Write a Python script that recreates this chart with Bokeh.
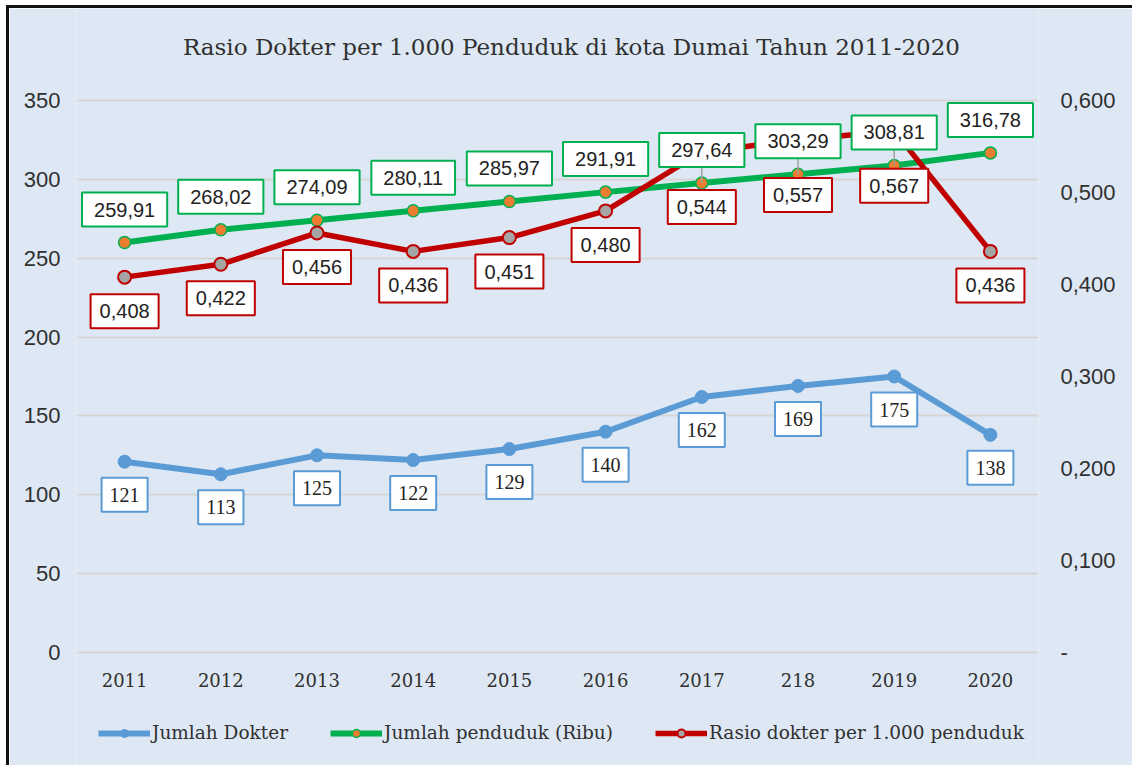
from bokeh.plotting import figure
from bokeh.models import (Range1d, FactorRange, LinearAxis, FixedTicker, ColumnDataSource,
                          Legend, LegendItem, CustomJSTickFormatter)
from bokeh.core.properties import value
from bokeh.embed import file_html
from bokeh.resources import INLINE

# ---- data ----
years = ["2011", "2012", "2013", "2014", "2015", "2016", "2017", "218", "2019", "2020"]
dokter = [121, 113, 125, 122, 129, 140, 162, 169, 175, 138]
penduduk = [259.91, 268.02, 274.09, 280.11, 285.97, 291.91, 297.64, 303.29, 308.81, 316.78]
rasio = [0.408, 0.422, 0.456, 0.436, 0.451, 0.480, 0.544, 0.557, 0.567, 0.436]

left_ticks = [0, 50, 100, 150, 200, 250, 300, 350]
right_ticks = [0.0, 0.1, 0.2, 0.3, 0.4, 0.5, 0.6]
right_tick_labels = ["-", "0,100", "0,200", "0,300", "0,400", "0,500", "0,600"]
leader_years = ["2017", "218", "2019"]

title_text = "Rasio Dokter per 1.000 Penduduk di kota Dumai Tahun 2011-2020"
name_dokter = "Jumlah Dokter"
name_penduduk = "Jumlah penduduk (Ribu)"
name_rasio = "Rasio dokter per 1.000 penduduk"

# ---- style ----
BG = "#DEE8F4"
BLUE = "#5B9BD5"
GREEN = "#00B050"
RED = "#C00000"
ORANGE = "#ED7D31"
GREY = "#A5A5A5"
TXT = "#303030"
SANS = "Liberation Sans"
SERIF = "DejaVu Serif"

# ---- layout (page pixels) ----
FIG_W, FIG_H = 1126, 760
PX_TOP, PX_AXTOP, PX_AXBOT, PX_BOTTOM = 8, 100, 652, 768   # canvas top, value 350, value 0, canvas bottom
LEFT_MAX, RIGHT_MAX = 350, 0.6
k = (PX_AXBOT - PX_AXTOP) / LEFT_MAX
y_start = -(PX_BOTTOM - PX_AXBOT) / k
y_end = LEFT_MAX + (PX_AXTOP - PX_TOP) / k
rs = RIGHT_MAX / LEFT_MAX

p = figure(x_range=FactorRange(factors=years, range_padding=0),
           y_range=Range1d(y_start, y_end),
           width=FIG_W, height=FIG_H,
           output_backend="svg", toolbar_location=None,
           min_border_left=67, min_border_right=97, min_border_top=0, min_border_bottom=0,
           background_fill_color=BG, border_fill_color=BG, outline_line_color=None,
           styles={"border-left": "3px solid #111111", "border-top": "3px solid #111111",
                   "margin-left": "6px", "margin-top": "5px"})

p.extra_y_ranges = {"r": Range1d(y_start * rs, y_end * rs)}

# axes
p.yaxis.ticker = FixedTicker(ticks=left_ticks)
p.yaxis.axis_line_color = None
p.yaxis.major_tick_line_color = None
p.yaxis.minor_tick_line_color = None
p.yaxis.major_label_standoff = 10
p.yaxis.major_label_text_font = SANS
p.yaxis.major_label_text_font_size = "22px"
p.yaxis.major_label_text_color = TXT

raxis = LinearAxis(y_range_name="r", ticker=FixedTicker(ticks=right_ticks),
                   formatter=CustomJSTickFormatter(args=dict(tv=right_ticks, tl=right_tick_labels),
                                                   code="""
let k = -1;
for (let j = 0; j < tv.length; j++) { if (Math.abs(tv[j] - tick) < 1e-9) { k = j; } }
return k >= 0 ? tl[k] : '';
"""))
raxis.axis_line_color = None
raxis.major_tick_line_color = None
raxis.minor_tick_line_color = None
raxis.major_label_standoff = 16
raxis.major_label_text_font = SANS
raxis.major_label_text_font_size = "22px"
raxis.major_label_text_color = TXT
p.add_layout(raxis, "right")

p.xaxis.visible = False
p.xgrid.grid_line_color = None
p.ygrid.ticker = FixedTicker(ticks=left_ticks)
p.ygrid.grid_line_color = "#D5D5D5"
p.ygrid.grid_line_width = 2

# title (drawn as text above the 350 line, centred over the category range)
p.text(x=[len(years) / 2], y=[LEFT_MAX], text=[title_text], x_offset=14, y_offset=-54,
       text_align="center", text_baseline="middle",
       text_font=value(SERIF), text_font_size="23px", text_color=TXT)

# category labels under the 0 line
p.text(x=years, y=[0] * len(years), text=years, y_offset=27,
       text_align="center", text_baseline="middle",
       text_font=value(SERIF), text_font_size="18px", text_color=TXT)

# ---- series ----
l_blue = p.line(years, dokter, line_color=BLUE, line_width=6)
s_blue = p.scatter(years, dokter, size=13, fill_color=BLUE, line_color=BLUE)

l_green = p.line(years, penduduk, line_color=GREEN, line_width=6)
s_green = p.scatter(years, penduduk, size=12, fill_color=ORANGE, line_color=GREEN, line_width=1.5)

l_red = p.line(years, rasio, y_range_name="r", line_color=RED, line_width=5.5)
s_red = p.scatter(years, rasio, y_range_name="r", size=13, fill_color=GREY, line_color=RED, line_width=2)

# leader lines for shifted labels
lead_y = [penduduk[years.index(y)] for y in leader_years]
p.segment(x0=leader_years, y0=lead_y, x1=leader_years, y1=[v + 20 for v in lead_y],
          line_color="#A0A0A0", line_width=1.5)

# ---- data labels ----
def fmt(v, d):
    return f"{v:.{d}f}".replace(".", ",")

blue_src = ColumnDataSource(dict(x=years, y=dokter, t=[str(v) for v in dokter],
                                 off=[33] * len(years)))
green_src = ColumnDataSource(dict(x=years, y=penduduk, t=[fmt(v, 2) for v in penduduk],
                                  off=[-33] * len(years)))
red_src = ColumnDataSource(dict(x=years, y=rasio, t=[fmt(v, 3) for v in rasio],
                                off=[55 if y in leader_years else 34 for y in years]))

def labels(src, color, font, pad_h, rng=None):
    kw = {}
    if rng:
        kw["y_range_name"] = rng
    p.text(x="x", y="y", text="t", source=src, y_offset="off",
           text_align="center", text_baseline="middle",
           text_font=value(font), text_font_size="20px", text_color="#222222",
           background_fill_color="white", border_line_color=color, border_line_width=2,
           padding=dict(left=pad_h, right=pad_h, top=10, bottom=10), **kw)

labels(blue_src, BLUE, "Liberation Serif", 8)
labels(green_src, GREEN, SANS, 12)
labels(red_src, RED, SANS, 9, "r")

# ---- legend ----
legend = Legend(items=[LegendItem(label=name_dokter, renderers=[l_blue, s_blue]),
                       LegendItem(label=name_penduduk, renderers=[l_green, s_green]),
                       LegendItem(label=name_rasio, renderers=[l_red, s_red])],
                orientation="horizontal", location=(22, 25),
                glyph_width=52, glyph_height=20, label_height=20, label_standoff=2,
                spacing=42, padding=0, margin=0,
                border_line_color=None, background_fill_alpha=0,
                label_text_font=SERIF, label_text_font_size="18.5px", label_text_color=TXT)
p.add_layout(legend)

open("out.html", "w").write(file_html(p, INLINE))
